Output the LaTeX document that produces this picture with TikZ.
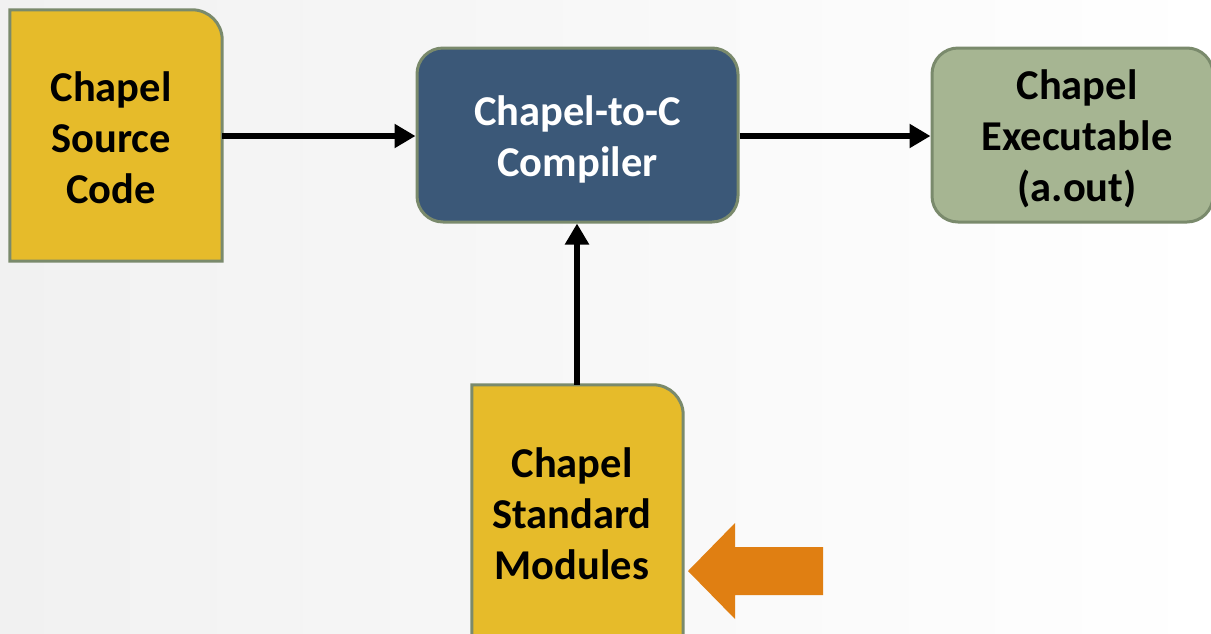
\documentclass[tikz,border=0pt]{standalone}
\usepackage{fontspec}
\setmainfont{Carlito}
\usetikzlibrary{arrows.meta}
\definecolor{bgc}{HTML}{F1F1F1}
\definecolor{gold}{HTML}{E6BB2A}
\definecolor{navy}{HTML}{3B5878}
\definecolor{sage}{HTML}{A6B592}
\definecolor{edgec}{HTML}{7A8A6C}
\definecolor{orng}{HTML}{E07F12}
\tikzset{
  lbl/.style={font=\bfseries\fontsize{42.5}{51}\selectfont, align=center, inner sep=0pt},
  rbox/.style={lbl, draw=edgec, line width=3pt, rounded corners=26pt},
  conn/.style={line width=5.5pt, -{Triangle[length=21pt,width=23pt]}},
}
\begin{document}
\begin{tikzpicture}[x=1pt,y=1pt]
\useasboundingbox (0,0) rectangle (1211,-633);
\clip (0,0) rectangle (1211,-633);
\shade[left color=bgc, right color=white] (0,0) rectangle (1211,-633);
% source code box
\node[lbl, minimum width=212pt, minimum height=251pt] (src) at (116,-135.5) {};
\draw[draw=edgec, fill=gold, line width=3pt]
  (src.south west) -- (src.north west) -- ([xshift=-30pt]src.north east)
  arc[start angle=90, end angle=0, radius=30pt] -- (src.south east) -- cycle;
\node[lbl] at (111,-138) {Chapel\\Source\\Code};
% compiler
\node[rbox, fill=navy, minimum width=321pt, minimum height=174pt] (comp) at (577.5,-135) {};
\node[lbl, text=white] at (577.5,-139) {Chapel-to-C\\Compiler};
% executable
\node[rbox, fill=sage, minimum width=281pt, minimum height=174pt] (exe) at (1072.5,-135) {};
\node[lbl] at (1077,-139) {Chapel\\Executable\\(a.out)};
% modules box
\node[lbl, minimum width=211pt, minimum height=260pt] (mod) at (577.5,-515) {};
\draw[draw=edgec, fill=gold, line width=3pt]
  (mod.south west) -- (mod.north west) -- ([xshift=-30pt]mod.north east)
  arc[start angle=90, end angle=0, radius=30pt] -- (mod.south east) -- cycle;
\node[lbl] at (572,-514) {Chapel\\Standard\\Modules};
% connectors
\draw[conn] (src.east |- 0,-136) -- (comp.west |- 0,-136);
\draw[conn] (comp.east |- 0,-136) -- (exe.west |- 0,-136);
\draw[conn] (mod.north -| 577,0) -- (comp.south -| 577,0);
% orange block arrow
\fill[orng] (688,-571) -- (735,-523) -- (735,-547) -- (823,-547) -- (823,-595) -- (735,-595) -- (735,-619) -- cycle;
\end{tikzpicture}
\end{document}
